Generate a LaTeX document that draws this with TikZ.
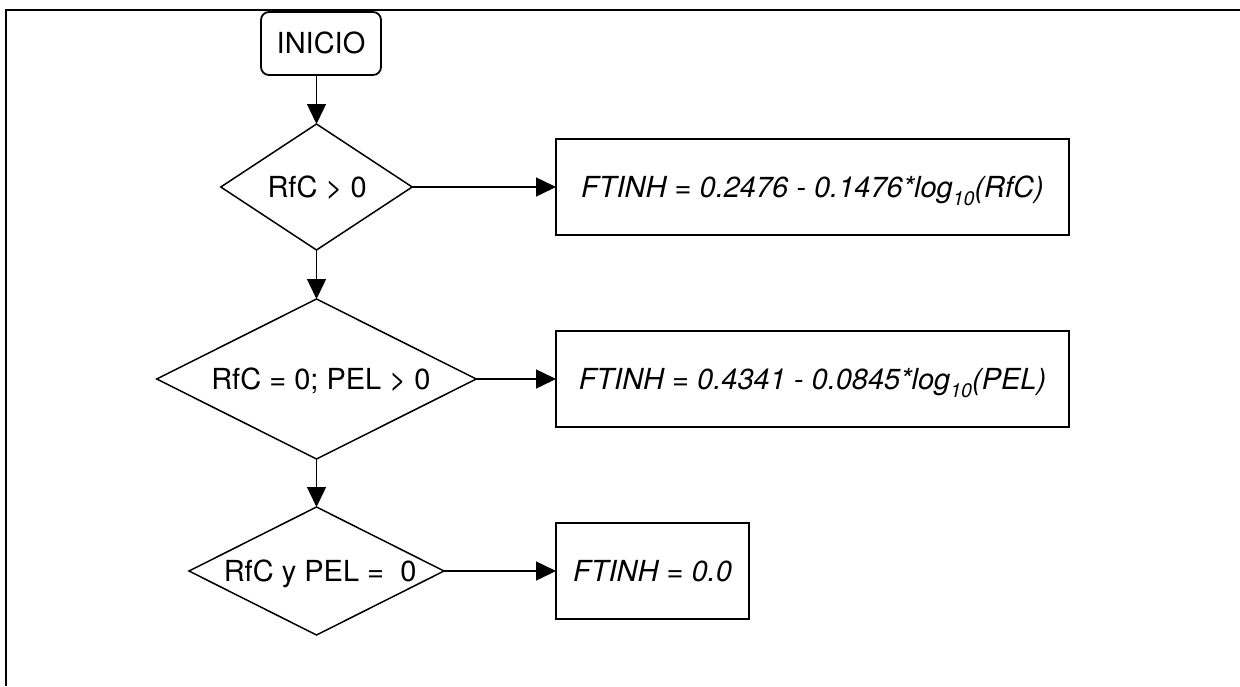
\documentclass[tikz,border=0pt]{standalone}
\usepackage{fontspec}
\setmainfont{TeX Gyre Heros}
\usetikzlibrary{shapes.geometric,arrows.meta}

% lowered "10" used as the base of the logarithms
\newcommand\baseten{\raisebox{-3.8pt}{\fontsize{9.8pt}{10pt}\selectfont 10}}

\begin{document}
\begin{tikzpicture}[x=0.5pt,y=-0.5pt,
  every node/.style={inner sep=0pt, outer sep=0pt,
    font=\fontsize{14.5pt}{17pt}\selectfont,
    text height=10.4pt, text depth=0pt},
  startbox/.style={draw, line width=0.9pt, rounded corners=4pt,
    minimum width=60pt, minimum height=31.5pt},
  decision/.style={draw, diamond, line width=0.75pt},
  resultbox/.style={draw, line width=1pt, minimum height=48pt,
    font=\fontsize{14.5pt}{17pt}\selectfont\itshape},
  flow/.style={line width=0.75pt, -{Triangle[length=10pt,width=9.5pt]}},
  frame/.style={line width=1pt}
]
\useasboundingbox (0,0) rectangle (1240,686);

% open frame along the top and left side
\draw[frame] (6,686) -- (6,10) -- (1240,10);

% start node
\node[startbox] (inicio) at (321,43.5) {INICIO};

% decisions
\node[decision, minimum width=95.7pt, minimum height=63pt] (d1) at (316.5,187) {};
\node (t1) at ([xshift=0.3pt]d1.center) {RfC > 0};

\node[decision, minimum width=159.75pt, minimum height=80pt] (d2) at (316.5,379) {};
\node (t2) at ([xshift=2.2pt]d2.center) {RfC = 0; PEL > 0};

\node[decision, minimum width=127.5pt, minimum height=64pt] (d3) at (316.5,571) {};
\node (t3) at ([xshift=1.8pt]d3.center) {RfC y PEL = \ 0};

% results
\node[resultbox, minimum width=256.5pt] (r1) at (812.5,187)
  {FTINH = 0.2476 - 0.1476*log\baseten(RfC)};
\node[resultbox, minimum width=256.5pt] (r2) at (812.5,379)
  {FTINH = 0.4341 - 0.0845*log\baseten(PEL)};
\node[resultbox, minimum width=96.5pt] (r3) at (652.5,571)
  {FTINH = 0.0};

% connectors
\draw[flow] (d1.north |- inicio.south) -- (d1.north);
\draw[flow] (d1.south) -- (d2.north);
\draw[flow] (d2.south) -- (d3.north);
\draw[flow] (d1.east) -- (r1.west);
\draw[flow] (d2.east) -- (r2.west);
\draw[flow] (d3.east) -- (r3.west);
\end{tikzpicture}
\end{document}
